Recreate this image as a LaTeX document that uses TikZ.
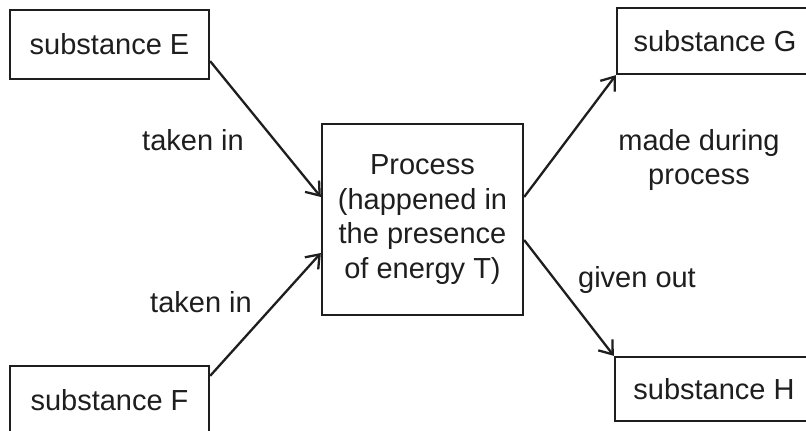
\documentclass[tikz,border=0pt]{standalone}
\usepackage{fontspec}
\setmainfont{Liberation Sans}
\usetikzlibrary{arrows.meta,calc}
\definecolor{ink}{HTML}{1E1E1E}
\begin{document}
\begin{tikzpicture}[x=1pt,y=-1pt,
  box/.style={draw=ink,line width=2.3pt,inner sep=0pt,text=ink,font=\fontsize{29}{34.5}\selectfont},
  lbl/.style={text=ink,inner sep=0pt,align=center,font=\fontsize{29}{34.5}\selectfont},
  arr/.style={draw=ink,line width=2.3pt,-{Straight Barb[length=12pt,width=18pt,line width=2.3pt]}}]
\useasboundingbox (0,0) rectangle (806,431);
\clip (0,0) rectangle (806,431);
\fill[white] (0,0) rectangle (806,431);
\node[box,minimum width=199pt,minimum height=69pt] (E) at (109.5,44.5) {substance E};
\node[box,minimum width=199pt,minimum height=69pt] (F) at (109.5,400.5) {substance F};
\node[box,minimum width=196pt,minimum height=66pt] (G) at (715,41) {substance G};
\node[box,minimum width=198pt,minimum height=64pt] (H) at (714,389) {substance H};
\node[box,minimum width=201pt,minimum height=191pt,align=center] (P) at (422.5,219.5) {Process\\(happened in\\the presence\\of energy T)};
\draw[arr] ([yshift=19pt]E.south east) -- ([yshift=22.5pt]P.west);
\draw[arr] ([yshift=-11pt]F.north east) -- ([yshift=-33.5pt]P.west);
\draw[arr] ([yshift=22.5pt]P.east) -- (G.south west);
\draw[arr] ([yshift=-20.5pt]P.east) -- (H.north west);
\node[lbl] (t1) at (193,140) {taken in};
\node[lbl] (t2) at (201,302) {taken in};
\node[lbl] (t3) at (699,160) {made during\\process};
\node[lbl] (t4) at (637,280) {given out};
\end{tikzpicture}
\end{document}
